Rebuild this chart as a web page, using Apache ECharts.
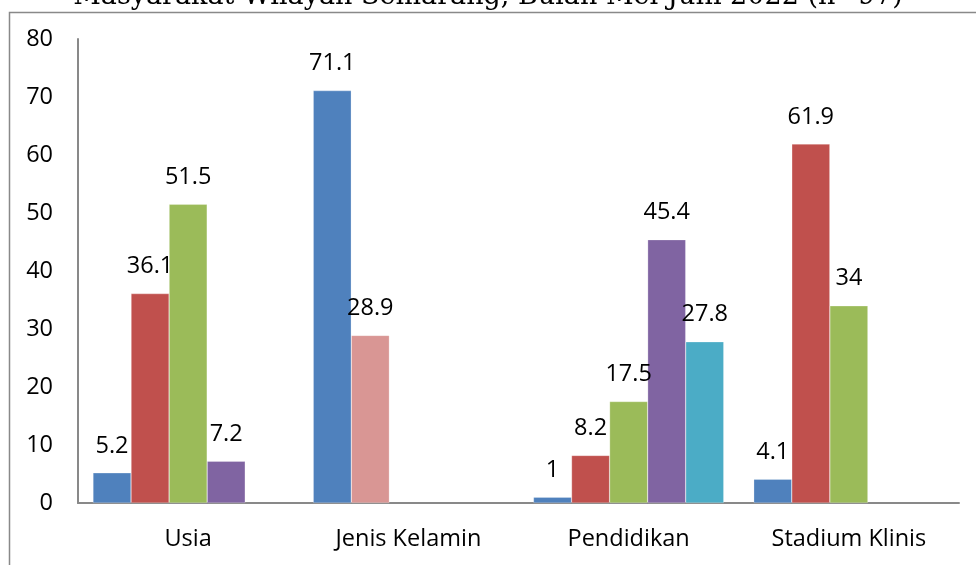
<!DOCTYPE html>
<html>
<head>
<meta charset="utf-8">
<script src="https://cdn.jsdelivr.net/npm/echarts@6/dist/echarts.min.js"></script>
<style>html,body{margin:0;padding:0;background:#fff;}#c{width:976px;height:565px;}</style>
</head>
<body>
<div id="c"></div>
<script>
var titleText = 'Masyarakat Wilayah Semarang, Bulan Mei-Juni 2022 (n=97)';
var categories = ['Usia', 'Jenis Kelamin', 'Pendidikan', 'Stadium Klinis'];
var series1 = [5.2, 71.1, 1, 4.1];
var series2 = [36.1, 28.9, 8.2, 61.9];
var series3 = [51.5, null, 17.5, 34];
var series4 = [7.2, null, 45.4, null];
var series5 = [null, null, 27.8, null];
var yTicks = [0, 10, 20, 30, 40, 50, 60, 70, 80];

var colors = ['#4F81BD', '#C0504D', '#9BBB59', '#8064A2', '#4BACC6'];
var pinkColor = '#D99694';
var FONT = 'Open Sans';
var FS = 23.5;

function mk(data, idx) {
  return {
    type: 'bar',
    data: data.map(function (v, i) {
      if (v === null) return null;
      var d = { value: v };
      if (idx === 1 && i === 1) d.itemStyle = { color: pinkColor };
      return d;
    }),
    barGap: '0%',
    barCategoryGap: '13.6%',
    itemStyle: { color: colors[idx], borderColor: 'rgba(255,255,255,0.5)', borderWidth: 0.5 },
    label: {
      show: true, position: 'top', distance: 15,
      fontFamily: FONT, fontSize: FS, color: '#000'
    }
  };
}

var chart = echarts.init(document.getElementById('c'), null, { renderer: 'canvas' });
chart.setOption({
  animation: false,
  title: {
    text: titleText, left: 'center', top: -22,
    textStyle: { fontFamily: 'DejaVu Serif', fontSize: 27, fontWeight: 'normal', color: '#000' }
  },
  graphic: [{
    type: 'rect', shape: { x: 9.5, y: 12.5, width: 1000, height: 600 },
    style: { fill: 'none', stroke: '#898989', lineWidth: 1.5 }, silent: true, z: -1
  }],
  grid: { left: 78, right: 17, top: 39, bottom: 62, containLabel: false },
  xAxis: {
    type: 'category', data: categories,
    axisLine: { lineStyle: { color: '#898989', width: 2 } },
    axisTick: { show: false },
    axisLabel: { fontFamily: FONT, fontSize: FS, color: '#000', margin: 24 }
  },
  yAxis: {
    type: 'value', min: yTicks[0], max: yTicks[yTicks.length - 1], interval: 10,
    axisLine: { show: true, lineStyle: { color: '#898989', width: 2 } },
    axisTick: { show: false },
    splitLine: { show: false },
    axisLabel: { fontFamily: FONT, fontSize: FS, color: '#000', margin: 25 }
  },
  series: [mk(series1, 0), mk(series2, 1), mk(series3, 2), mk(series4, 3), mk(series5, 4)]
});
</script>
</body>
</html>
